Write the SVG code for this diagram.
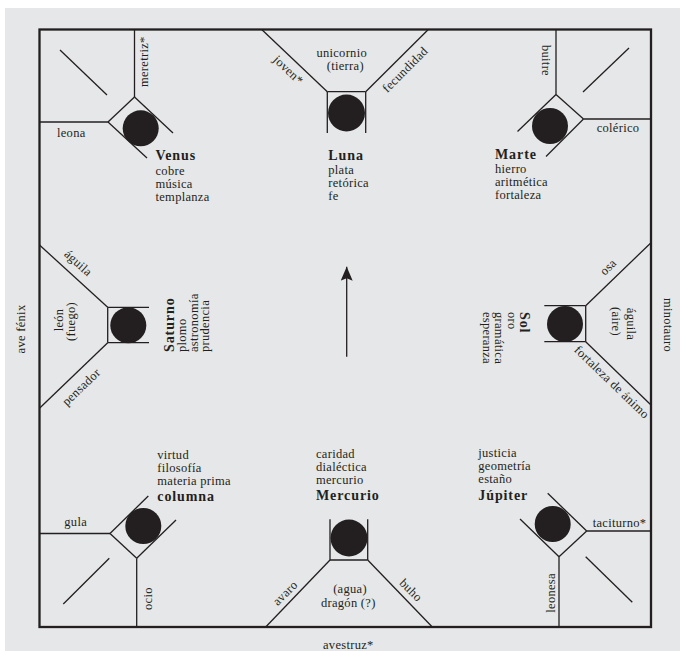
<svg xmlns="http://www.w3.org/2000/svg" width="680" height="651" viewBox="0 0 680 651">
<defs>
<style>
.bg{fill:#e6e7e8}
.ln{stroke:#231f20;stroke-width:1.3;fill:none}
.fr{stroke:#231f20;stroke-width:2.3;fill:none}
.dot{fill:#231f20}
text{font-family:"Liberation Serif","Times New Roman",serif;fill:#231f20;font-size:12.5px;letter-spacing:0.3px}
.b{font-weight:bold;font-size:14px;letter-spacing:0.9px}
.m{text-anchor:middle}
</style>
<marker id="ah" viewBox="0 0 14 12" refX="14" refY="6" markerWidth="14" markerHeight="12" markerUnits="userSpaceOnUse" orient="auto">
<path d="M0,0 L14,6 L0,12 L2.5,6 Z" fill="#231f20"/>
</marker>
</defs>
<rect x="0" y="0" width="680" height="651" fill="#ffffff"/>
<rect class="bg" x="5" y="8" width="675" height="643"/>
<rect class="fr" x="39.5" y="29.5" width="611.5" height="597.5"/>

<g id="connectors">
<line class="ln" x1="346.7" y1="356.7" x2="346.7" y2="266.7" marker-end="url(#ah)"/>
</g>

<g id="venus">
<line class="ln" x1="134.5" y1="29.5" x2="134.5" y2="97"/>
<line class="ln" x1="39.5" y1="122" x2="108" y2="122"/>
<line class="ln" x1="108" y1="122" x2="134.5" y2="97"/>
<line class="ln" x1="134.5" y1="97" x2="173" y2="133"/>
<line class="ln" x1="108" y1="122" x2="147" y2="158"/>
<line class="ln" x1="60" y1="50" x2="107" y2="95"/>
<circle class="dot" cx="140.7" cy="128.3" r="18"/>
<text x="57" y="136.5">leona</text>
<text transform="translate(148,87) rotate(-90)">meretriz*</text>
<text class="b" x="155.5" y="160">Venus</text>
<text x="155.5" y="174.5">cobre</text>
<text x="155.5" y="187.5">música</text>
<text x="155.5" y="200.5">templanza</text>
</g>

<g id="luna">
<line class="ln" x1="261.7" y1="29.5" x2="327.3" y2="91.7"/>
<line class="ln" x1="428.3" y1="29.5" x2="365.7" y2="91.7"/>
<line class="ln" x1="327.3" y1="91.7" x2="365.7" y2="91.7"/>
<line class="ln" x1="327.3" y1="91.7" x2="327.3" y2="133"/>
<line class="ln" x1="365.7" y1="91.7" x2="365.7" y2="133"/>
<circle class="dot" cx="346.5" cy="113" r="18.5"/>
<text class="m" x="341.7" y="57">unicornio</text>
<text class="m" x="345.3" y="70">(tierra)</text>
<text class="m" transform="translate(285.5,73) rotate(44)">joven*</text>
<text class="m" transform="translate(408,72.5) rotate(-45)">fecundidad</text>
<text class="b" x="328.3" y="160">Luna</text>
<text x="328.3" y="173.5">plata</text>
<text x="328.3" y="187">retórica</text>
<text x="328.3" y="200">fe</text>
</g>

<g id="marte">
<line class="ln" x1="556" y1="29.5" x2="556" y2="94.5"/>
<line class="ln" x1="583.5" y1="119" x2="651" y2="119"/>
<line class="ln" x1="556" y1="94.5" x2="583.5" y2="119"/>
<line class="ln" x1="556" y1="94.5" x2="517.5" y2="131.5"/>
<line class="ln" x1="583.5" y1="119" x2="546" y2="156.5"/>
<line class="ln" x1="583" y1="92" x2="629" y2="48"/>
<circle class="dot" cx="550" cy="126" r="18"/>
<text transform="translate(542,45) rotate(90)">buitre</text>
<text x="596.7" y="131.5">colérico</text>
<text class="b" x="495" y="159">Marte</text>
<text x="495" y="173">hierro</text>
<text x="495" y="186">aritmética</text>
<text x="495" y="199">fortaleza</text>
</g>

<g id="saturno">
<line class="ln" x1="39.5" y1="245" x2="107.7" y2="307.3"/>
<line class="ln" x1="39.5" y1="408.3" x2="107.7" y2="342.7"/>
<line class="ln" x1="107.7" y1="307.3" x2="107.7" y2="342.7"/>
<line class="ln" x1="107.7" y1="307.3" x2="149" y2="307.3"/>
<line class="ln" x1="107.7" y1="342.7" x2="149" y2="342.7"/>
<circle class="dot" cx="128.3" cy="325.3" r="18"/>
<text class="m" transform="translate(25,329) rotate(-90)">ave fénix</text>
<text class="m" transform="translate(75.5,266) rotate(42)">águila</text>
<text class="m" transform="translate(84,390) rotate(-44)">pensador</text>
<text class="m" transform="translate(63,320) rotate(-90)">león</text>
<text class="m" transform="translate(75,321.5) rotate(-90)">(fuego)</text>
<text class="b" transform="translate(174,352) rotate(-90)">Saturno</text>
<text transform="translate(186,352) rotate(-90)">plomo</text>
<text transform="translate(197.5,352) rotate(-90)">astronomía</text>
<text transform="translate(208.5,352) rotate(-90)">prudencia</text>
</g>

<g id="sol">
<line class="ln" x1="651" y1="242.7" x2="585.7" y2="305.7"/>
<line class="ln" x1="651" y1="405" x2="585.7" y2="341.7"/>
<line class="ln" x1="585.7" y1="305.7" x2="585.7" y2="341.7"/>
<line class="ln" x1="585.7" y1="305.7" x2="544.3" y2="305.7"/>
<line class="ln" x1="585.7" y1="341.7" x2="544.3" y2="341.7"/>
<circle class="dot" cx="565" cy="324" r="18"/>
<text class="m" transform="translate(664,325) rotate(90)">minotauro</text>
<text class="m" transform="translate(627,324) rotate(90)">águila</text>
<text class="m" transform="translate(612,321.5) rotate(90)">(aire)</text>
<text class="m" transform="translate(611,270) rotate(-44)">osa</text>
<text class="m" transform="translate(609,385) rotate(44)">fortaleza de ánimo</text>
<text class="b" transform="translate(520,312) rotate(90)">Sol</text>
<text transform="translate(507.5,312) rotate(90)">oro</text>
<text transform="translate(495,312) rotate(90)">gramática</text>
<text transform="translate(482.5,312) rotate(90)">esperanza</text>
</g>

<g id="columna">
<line class="ln" x1="39.5" y1="533.5" x2="110" y2="533.5"/>
<line class="ln" x1="136.7" y1="558.3" x2="136.7" y2="627"/>
<line class="ln" x1="110" y1="533.5" x2="136.7" y2="558.3"/>
<line class="ln" x1="110" y1="533.5" x2="148.3" y2="496"/>
<line class="ln" x1="136.7" y1="558.3" x2="176" y2="520"/>
<line class="ln" x1="63.3" y1="604" x2="109.3" y2="558.3"/>
<circle class="dot" cx="143.3" cy="526" r="18"/>
<text x="64.3" y="526">gula</text>
<text transform="translate(151.5,610) rotate(-90)">ocio</text>
<text x="157.3" y="459">virtud</text>
<text x="157.3" y="472">filosofía</text>
<text x="157.3" y="485">materia prima</text>
<text class="b" x="157.3" y="501">columna</text>
</g>

<g id="mercurio">
<line class="ln" x1="330" y1="519.3" x2="330" y2="560"/>
<line class="ln" x1="367.7" y1="519.3" x2="367.7" y2="560"/>
<line class="ln" x1="330" y1="560" x2="367.7" y2="560"/>
<line class="ln" x1="330" y1="560" x2="265.7" y2="627"/>
<line class="ln" x1="367.7" y1="560" x2="432.3" y2="627"/>
<circle class="dot" cx="349" cy="538" r="18.5"/>
<text x="316" y="457.5">caridad</text>
<text x="316" y="471">dialéctica</text>
<text x="316" y="484">mercurio</text>
<text class="b" x="316" y="500">Mercurio</text>
<text class="m" x="350" y="592.5">(agua)</text>
<text class="m" x="348.3" y="606.5">dragón (?)</text>
<text class="m" transform="translate(288,596) rotate(-45)">avaro</text>
<text class="m" transform="translate(408,593) rotate(45)">buho</text>
<text class="m" x="348.3" y="648.5">avestruz*</text>
</g>

<g id="jupiter">
<line class="ln" x1="586.7" y1="531" x2="651" y2="531"/>
<line class="ln" x1="559" y1="556.7" x2="559" y2="627"/>
<line class="ln" x1="586.7" y1="531" x2="559" y2="556.7"/>
<line class="ln" x1="586.7" y1="531" x2="547.7" y2="493.3"/>
<line class="ln" x1="559" y1="556.7" x2="520" y2="519"/>
<line class="ln" x1="585.7" y1="556.7" x2="632.3" y2="602.3"/>
<circle class="dot" cx="552.7" cy="524" r="18"/>
<text x="592.7" y="526.5">taciturno*</text>
<text transform="translate(555,612.7) rotate(-90)">leonesa</text>
<text x="478.3" y="457">justicia</text>
<text x="478.3" y="470">geometría</text>
<text x="478.3" y="483">estaño</text>
<text class="b" x="478.3" y="500">Júpiter</text>
</g>
</svg>
